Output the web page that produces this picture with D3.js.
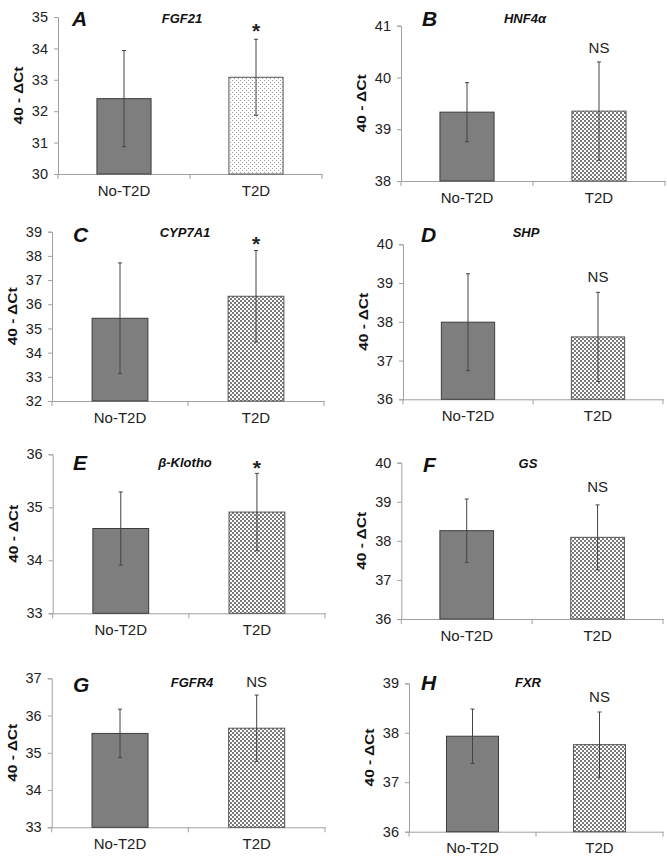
<!DOCTYPE html>
<html><head><meta charset="utf-8">
<script src="https://cdn.jsdelivr.net/npm/d3@7"></script>
<style>body{margin:0;background:#fff;} svg{display:block;font-family:"Liberation Sans",Arial,sans-serif;}</style>
</head><body><svg id="chart" width="667" height="860"></svg>
<script>
// ---- data ----
const categories = ["No-T2D", "T2D"];
const panelLetters = ["A", "B", "C", "D", "E", "F", "G", "H"];
const genes = ["FGF21", "HNF4α", "CYP7A1", "SHP", "β-Klotho", "GS", "FGFR4", "FXR"];
const meanNoT2D = [32.40, 39.33, 35.42, 37.99, 34.60, 38.26, 35.52, 37.93];
const meanT2D   = [33.08, 39.35, 36.33, 37.61, 34.91, 38.09, 35.66, 37.76];
const errNoT2D  = [1.53, 0.57, 2.29, 1.25, 0.69, 0.81, 0.65, 0.55];
const errT2D    = [1.21, 0.95, 1.89, 1.15, 0.73, 0.83, 0.89, 0.66];
const significance = ["*", "NS", "*", "NS", "*", "NS", "NS", "NS"];
const yTicks = [
  [30, 31, 32, 33, 34, 35],
  [38, 39, 40, 41],
  [32, 33, 34, 35, 36, 37, 38, 39],
  [36, 37, 38, 39, 40],
  [33, 34, 35, 36],
  [36, 37, 38, 39, 40],
  [33, 34, 35, 36, 37],
  [36, 37, 38, 39]
];
const yLabel = "40 - ΔCt";
const t2dPattern = ["dots", "check", "check", "check", "check", "check", "check", "check"];

// ---- layout (positions only) ----
const layout = [
  {l: 58,    r: 322, t: 17,    b: 174,   lx: 72,  ly: 26,  gx: 182, gy: 23,  sy: 38},
  {l: 401,   r: 665, t: 25.7,  b: 181,   lx: 422, ly: 26,  gx: 525, gy: 23,  sy: 53},
  {l: 52,    r: 324, t: 231.7, b: 401,   lx: 73,  ly: 242, gx: 185, gy: 237, sy: 251},
  {l: 403,   r: 663, t: 244.3, b: 399.3, lx: 421, ly: 242, gx: 526, gy: 237, sy: 282},
  {l: 52.7,  r: 325, t: 454.3, b: 613.3, lx: 73,  ly: 470, gx: 185, gy: 467, sy: 475},
  {l: 401.3, r: 663, t: 462.7, b: 619,   lx: 423, ly: 472, gx: 528, gy: 468, sy: 492},
  {l: 51.7,  r: 325, t: 678.3, b: 827.3, lx: 73,  ly: 692, gx: 192, gy: 687, sy: 687},
  {l: 409,   r: 663, t: 683.3, b: 831.7, lx: 421, ly: 690, gx: 528, gy: 687, sy: 702}
];

const svg = d3.select("#chart");
const defs = svg.append("defs");
const pc = defs.append("pattern").attr("id", "check").attr("patternUnits", "userSpaceOnUse")
  .attr("width", 4).attr("height", 4);
pc.append("rect").attr("width", 4).attr("height", 4).attr("fill", "#fff");
pc.append("rect").attr("x", 0).attr("y", 0).attr("width", 2).attr("height", 2).attr("fill", "#7a7a7a");
pc.append("rect").attr("x", 2).attr("y", 2).attr("width", 2).attr("height", 2).attr("fill", "#7a7a7a");
const pd = defs.append("pattern").attr("id", "dots").attr("patternUnits", "userSpaceOnUse")
  .attr("width", 4).attr("height", 4);
pd.append("rect").attr("width", 4).attr("height", 4).attr("fill", "#fff");
pd.append("rect").attr("x", 0).attr("y", 0).attr("width", 1).attr("height", 1).attr("fill", "#9a9a9a");
pd.append("rect").attr("x", 2).attr("y", 2).attr("width", 1).attr("height", 1).attr("fill", "#9a9a9a");

const axisColor = "#a0a0a0";

panelLetters.forEach((letter, i) => {
  const L = layout[i];
  const ticks = yTicks[i];
  const y = d3.scaleLinear().domain([ticks[0], ticks[ticks.length - 1]]).range([L.b, L.t]);
  const x = d3.scaleBand().domain(categories).range([L.l, L.r]).paddingInner(0.59).paddingOuter(0.295);
  const g = svg.append("g");

  // y axis
  const ya = g.append("g").attr("transform", `translate(${L.l},0)`)
    .call(d3.axisLeft(y).tickValues(ticks).tickFormat(d3.format("d")).tickSize(4).tickPadding(6));
  ya.select(".domain").attr("stroke", axisColor);
  ya.selectAll(".tick line").attr("stroke", axisColor);
  ya.selectAll(".tick text").attr("font-size", 14.5).attr("fill", "#222")
    .attr("font-family", '"Liberation Sans", Arial, sans-serif');

  // x axis
  const xa = g.append("g").attr("transform", `translate(0,${L.b})`)
    .call(d3.axisBottom(x).tickSize(0).tickPadding(11).tickSizeOuter(0));
  xa.select(".domain").attr("stroke", axisColor);
  xa.selectAll(".tick text").attr("font-size", 15).attr("fill", "#222")
    .attr("font-family", '"Liberation Sans", Arial, sans-serif');
  const bounds = d3.range(categories.length + 1).map(k => L.l + k * x.step());
  g.selectAll(".xb").data(bounds).join("line")
    .attr("x1", d => d).attr("x2", d => d).attr("y1", L.b).attr("y2", L.b + 5)
    .attr("stroke", axisColor);

  // bars
  const vals = [meanNoT2D[i], meanT2D[i]];
  const errs = [errNoT2D[i], errT2D[i]];
  const fills = ["#7e7e7e", `url(#${t2dPattern[i]})`];
  const strokes = ["#3c3c3c", "#555"];
  g.selectAll(".bar").data(categories).join("rect")
    .attr("x", d => x(d)).attr("width", x.bandwidth())
    .attr("y", (d, k) => y(vals[k])).attr("height", (d, k) => L.b - y(vals[k]))
    .attr("fill", (d, k) => fills[k]).attr("stroke", (d, k) => strokes[k]).attr("stroke-width", 1);

  // error bars
  const cx = d => x(d) + x.bandwidth() / 2;
  g.selectAll(".eb").data(categories).join("line")
    .attr("x1", cx).attr("x2", cx)
    .attr("y1", (d, k) => y(vals[k] + errs[k])).attr("y2", (d, k) => y(vals[k] - errs[k]))
    .attr("stroke", "#444").attr("stroke-width", 1);
  [1, -1].forEach(s => {
    g.selectAll(".cap" + s).data(categories).join("line")
      .attr("x1", d => cx(d) - 2).attr("x2", d => cx(d) + 2)
      .attr("y1", (d, k) => y(vals[k] + s * errs[k])).attr("y2", (d, k) => y(vals[k] + s * errs[k]))
      .attr("stroke", "#444").attr("stroke-width", 1);
  });

  // significance marker
  const sig = significance[i];
  g.append("text").attr("x", cx(categories[1])).attr("y", L.sy)
    .attr("text-anchor", "middle")
    .attr("font-size", sig === "*" ? 21 : 15)
    .attr("font-weight", sig === "*" ? "bold" : "normal")
    .attr("fill", "#222").text(sig);

  // panel letter
  g.append("text").attr("x", L.lx).attr("y", L.ly)
    .attr("font-size", 21).attr("font-weight", "bold").attr("font-style", "italic")
    .attr("fill", "#111").text(letter);

  // gene name
  g.append("text").attr("x", L.gx).attr("y", L.gy).attr("text-anchor", "middle")
    .attr("font-size", 13).attr("font-weight", "bold").attr("font-style", "italic")
    .attr("fill", "#111").text(genes[i]);

  // y label
  const ym = (L.t + L.b) / 2;
  g.append("text").attr("transform", `translate(${L.l - 35},${ym}) rotate(-90)`)
    .attr("text-anchor", "middle").attr("font-size", 13).attr("font-weight", "bold")
    .attr("textLength", 58).attr("lengthAdjust", "spacingAndGlyphs")
    .attr("fill", "#111").text(yLabel);
});
</script>
</body></html>
